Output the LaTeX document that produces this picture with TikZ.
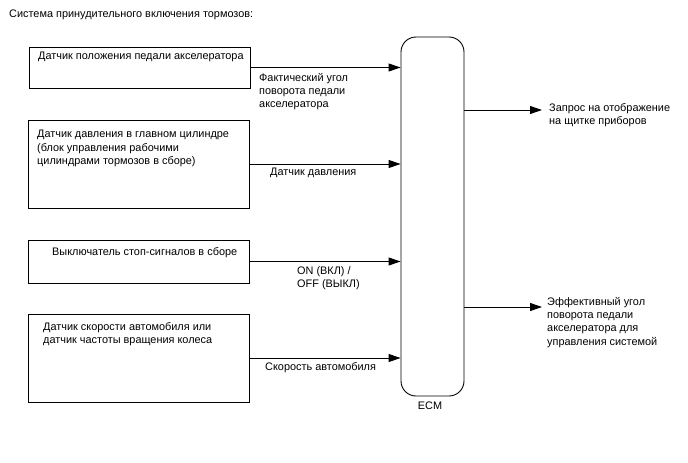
\documentclass[tikz,border=0pt]{standalone}
\usepackage{fontspec}
\setmainfont{Liberation Sans}
\usetikzlibrary{arrows.meta,positioning}

\tikzset{
  sbox/.style={draw, line width=0.9pt, minimum width=221pt, inner sep=0pt},
  lbl/.style={anchor=north west, inner sep=0pt, align=left,
    font=\fontsize{10.9}{13.3}\selectfont},
  sig/.style={line width=0.9pt, -{Triangle[length=12pt,width=8pt]}}
}

\begin{document}
\begin{tikzpicture}[x=1pt, y=-1pt]
  \useasboundingbox (0,0) rectangle (688,463);
  \node[lbl] (title) at (9,10) {Система принудительного включения тормозов:};
  % ------- left: sensors -------
  \node[sbox, minimum height=41pt] (b1) at (139.5,67.5) {};
  \node[sbox, minimum height=88pt] (b2) at (138.5,164) {};
  \node[sbox, minimum height=43pt] (b3) at (138.5,261.5) {};
  \node[sbox, minimum height=88pt] (b4) at (138.5,358) {};
  \node[lbl] (t1) at (38,52) {Датчик положения педали акселератора};
  \node[lbl] (t2) at (37,130) {Датчик давления в главном цилиндре\\(блок управления рабочими\\цилиндрами тормозов в сборе)};
  \node[lbl] (t3) at (52,247) {Выключатель стоп-сигналов в сборе};
  \node[lbl] (t4) at (43,322) {Датчик скорости автомобиля или\\датчик частоты вращения колеса};
  % ------- middle: ECM -------
  \node[draw, line width=0.9pt, rounded corners=15pt, minimum width=63pt,
    minimum height=359pt, inner sep=0pt] (ecm) at (432.5,216.5) {};
  \node[lbl, anchor=north] (ecmlab) at (430,402) {ECM};
  \foreach \b in {b1,b2,b3,b4}
    \draw[sig] (\b.east) -- (\b.east -| ecm.west);
  \node[lbl] (l1) at (259,73) {Фактический угол\\поворота педали\\акселератора};
  \node[lbl] (l2) at (270,168) {Датчик давления};
  \node[lbl] (l3) at (297,266) {ON (ВКЛ) /\\OFF (ВЫКЛ)};
  \node[lbl] (l4) at (265,362) {Скорость автомобиля};
  % ------- right: outputs -------
  \coordinate (o1) at (542,110);
  \coordinate (o2) at (542,307);
  \draw[sig] (ecm.east |- o1) -- (o1);
  \draw[sig] (ecm.east |- o2) -- (o2);
  \node[lbl] (r1) at (549,103) {Запрос на отображение\\на щитке приборов};
  \node[lbl] (r2) at (547,297) {Эффективный угол\\поворота педали\\акселератора для\\управления системой};
\end{tikzpicture}
\end{document}
